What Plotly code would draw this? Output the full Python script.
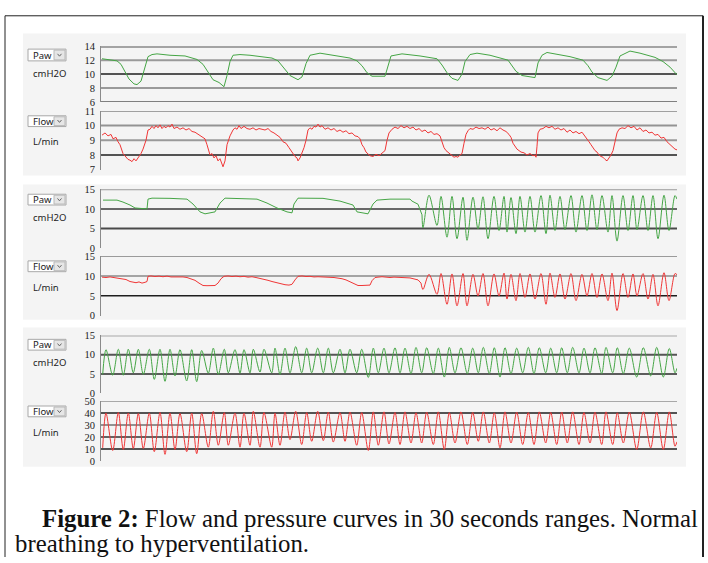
import plotly.graph_objects as go

# ---------------- DATA (time axis in samples: 576 samples = 30 s) ----------------
# Panel 1 (normal breathing) - airway pressure, cmH2O: (sample, value)
g1_paw = [(1, 12.2), (9, 12.0), (16, 11.9), (20, 11.4), (24, 10.3), (28, 9.3), (33, 8.6), (36, 8.5), (40, 9.0), (43, 10.5),
          (47, 12.5), (51, 12.8), (56, 12.9), (69, 12.7), (84, 12.6), (96, 12.1), (102, 11.4), (107, 10.3), (112, 9.2), (118, 8.8),
          (123, 8.2), (126, 9.8), (129, 11.8), (132, 12.7), (139, 12.8), (149, 12.7), (161, 12.5), (171, 12.3), (177, 11.9), (183, 10.8),
          (189, 9.8), (197, 9.2), (201, 9.6), (205, 11.5), (209, 12.7), (219, 13.0), (234, 12.6), (249, 12.3), (256, 11.9), (261, 11.2),
          (266, 10.2), (271, 9.7), (284, 9.7), (287, 11.0), (290, 12.6), (301, 12.9), (319, 12.6), (336, 12.2), (341, 11.3), (346, 10.2),
          (351, 9.4), (357, 9.1), (361, 10.0), (364, 11.8), (369, 12.8), (376, 13.0), (389, 12.7), (407, 12.0), (411, 11.2), (415, 10.4),
          (421, 9.8), (434, 9.5), (437, 11.6), (441, 12.7), (446, 13.1), (454, 12.9), (469, 12.5), (482, 12.0), (487, 11.2), (491, 10.3),
          (497, 9.5), (506, 9.1), (511, 9.7), (515, 11.0), (519, 12.6), (529, 13.3), (539, 13.0), (554, 12.4), (562, 11.8), (569, 11.0),
          (576, 9.9)]

# Panel 1 - flow, L/min
g1_flow = [(1, 9.35), (4, 9.5), (7, 9.3), (10, 9.4), (12, 9.1), (15, 9.2), (17, 8.9), (19, 8.7), (22, 8.1), (25, 7.9),
           (27, 7.7), (29, 7.65), (31, 7.55), (33, 7.75), (35, 7.6), (37, 7.8), (40, 8.1), (42, 8.4), (45, 9.0), (47, 9.7),
           (49, 9.75), (51, 9.95), (53, 9.8), (55, 10.0), (57, 9.85), (59, 10.05), (61, 9.8), (63, 9.95), (65, 9.85), (67, 10.0),
           (69, 9.9), (71, 10.1), (73, 9.8), (76, 9.9), (79, 9.75), (82, 9.85), (85, 9.7), (88, 9.8), (91, 9.6), (94, 9.55),
           (97, 9.4), (99, 9.35), (102, 9.2), (104, 9.1), (106, 8.7), (109, 8.0), (111, 8.1), (113, 7.8), (115, 7.95), (117, 7.6),
           (119, 7.75), (121, 7.4), (122, 7.2), (124, 7.6), (126, 8.7), (129, 9.3), (132, 9.7), (134, 9.85), (136, 9.75), (138, 10.0),
           (140, 9.8), (143, 9.95), (146, 9.8), (149, 9.75), (152, 9.85), (155, 9.7), (158, 9.8), (161, 9.75), (164, 9.7), (167, 9.8),
           (170, 9.6), (173, 9.5), (176, 9.35), (179, 9.2), (182, 8.9), (185, 8.8), (188, 8.5), (191, 8.2), (194, 7.9), (196, 7.8),
           (197, 7.6), (199, 7.8), (201, 8.1), (203, 8.5), (205, 9.0), (207, 9.7), (209, 9.85), (211, 9.75), (213, 9.95), (215, 9.9),
           (217, 10.1), (219, 9.9), (221, 10.0), (224, 9.75), (227, 9.85), (230, 9.7), (233, 9.8), (236, 9.6), (239, 9.7), (242, 9.55),
           (245, 9.65), (248, 9.45), (251, 9.5), (254, 9.3), (257, 9.25), (259, 9.1), (261, 8.7), (263, 8.5), (265, 8.2), (267, 8.05),
           (269, 7.95), (272, 7.9), (275, 8.05), (278, 7.95), (281, 8.1), (284, 8.3), (286, 9.0), (288, 9.5), (291, 9.75), (294, 9.9),
           (297, 9.8), (300, 10.0), (303, 9.85), (306, 9.95), (309, 9.8), (312, 9.9), (315, 9.7), (318, 9.8), (321, 9.6), (324, 9.7),
           (327, 9.5), (330, 9.6), (333, 9.4), (336, 9.45), (339, 9.3), (341, 8.9), (343, 8.5), (345, 8.3), (347, 8.2), (349, 8.05),
           (351, 7.95), (353, 7.85), (355, 7.9), (357, 7.85), (359, 8.0), (361, 8.1), (363, 8.8), (365, 9.4), (367, 9.65), (369, 9.8),
           (372, 9.75), (375, 9.9), (378, 9.8), (381, 9.85), (384, 9.75), (387, 9.9), (390, 9.7), (393, 9.8), (396, 9.65), (399, 9.85),
           (402, 9.7), (405, 9.6), (408, 9.4), (410, 9.2), (412, 8.8), (414, 8.6), (416, 8.4), (418, 8.3), (420, 8.2), (423, 8.15),
           (426, 8.0), (429, 8.1), (432, 7.95), (434, 8.0), (435, 7.85), (436, 8.6), (437, 9.5), (439, 9.75), (442, 9.8), (445, 9.95),
           (448, 9.85), (451, 9.95), (454, 9.75), (457, 9.85), (460, 9.7), (463, 9.8), (466, 9.55), (469, 9.7), (472, 9.5), (475, 9.6),
           (478, 9.45), (481, 9.55), (484, 9.3), (486, 9.1), (488, 8.9), (490, 8.7), (492, 8.5), (494, 8.3), (496, 8.2), (498, 8.0),
           (500, 7.9), (502, 7.85), (504, 7.7), (506, 7.6), (508, 7.8), (510, 8.0), (512, 8.3), (514, 8.9), (516, 9.5), (518, 9.75),
           (521, 9.85), (524, 9.8), (527, 10.0), (530, 9.85), (533, 9.95), (536, 9.7), (539, 9.85), (542, 9.6), (545, 9.7), (548, 9.5),
           (551, 9.55), (554, 9.35), (557, 9.4), (560, 9.15), (563, 9.2), (566, 8.9), (569, 8.7), (572, 8.5), (574, 8.4), (576, 8.35)]

# Panel 2 (onset of hyperventilation) - calm part before the rapid breathing
g2_paw_calm = [(2, 12.25), (16, 12.25), (22, 11.75), (29, 11.0), (34, 10.25), (39, 10.1), (46, 10.0), (47, 12.5), (51, 12.75), (69, 12.7),
               (86, 12.5), (92, 11.25), (99, 9.25), (104, 8.75), (114, 9.25), (119, 11.5), (124, 12.75), (156, 12.5), (166, 11.5), (176, 10.25),
               (186, 9.25), (191, 9.0), (193, 11.25), (197, 12.75), (222, 12.7), (239, 12.0), (252, 11.0), (256, 9.25), (267, 8.75), (272, 11.25),
               (276, 12.25), (289, 12.5), (309, 12.5), (311, 12.0), (317, 11.2), (321, 8.5)]
g2_flow_calm = [(1, 9.7), (5, 9.6), (9, 9.75), (13, 9.55), (17, 9.5), (21, 9.3), (25, 9.1), (29, 8.6), (32, 8.4), (35, 8.3),
                (38, 8.5), (41, 8.2), (44, 8.4), (46, 8.6), (47, 9.9), (50, 10.0), (54, 9.85), (58, 9.95), (62, 9.8), (66, 9.95),
                (70, 9.75), (74, 9.8), (78, 9.7), (82, 9.75), (86, 9.6), (90, 9.3), (94, 8.9), (98, 8.2), (102, 7.6), (106, 7.55),
                (110, 7.65), (114, 7.6), (117, 8.2), (120, 9.3), (123, 9.9), (127, 10.0), (131, 9.85), (135, 9.95), (139, 9.8), (143, 9.9),
                (147, 9.7), (151, 9.8), (155, 9.6), (159, 9.4), (163, 9.2), (167, 8.9), (171, 8.6), (175, 8.3), (179, 8.0), (184, 7.8),
                (188, 7.7), (191, 7.9), (194, 9.0), (197, 9.9), (201, 10.0), (205, 9.85), (209, 9.9), (213, 9.75), (217, 9.8), (221, 9.7),
                (225, 9.75), (229, 9.65), (233, 9.6), (237, 9.5), (241, 9.3), (245, 9.0), (249, 8.5), (253, 7.9), (257, 7.6), (261, 7.6),
                (265, 7.65), (269, 7.7), (271, 8.8), (274, 9.6), (277, 9.7), (281, 9.8), (285, 9.7), (289, 9.6), (293, 9.7), (297, 9.6),
                (301, 9.65), (305, 9.55), (309, 9.5), (313, 9.3), (317, 9.0), (320, 8.2)]
# Panel 2 - rapid breathing: (sample, paw, flow) at troughs and peaks
g2_troughs = [(322, 5.2, 6.6), (336, 5.8, 5.4), (346, 2.8, 2.9), (356, 2.4, 2.5), (366, 2.0, 2.5), (377, 4.9, 5.0), (387, 2.4, 2.5),
              (398, 4.5, 5.0), (406, 4.1, 4.2), (415, 3.7, 3.8), (424, 4.1, 4.6), (434, 4.1, 4.2), (445, 3.7, 2.9), (454, 4.5, 4.6),
              (464, 4.7, 4.2), (475, 4.1, 3.8), (486, 4.5, 5.0), (496, 4.7, 4.6), (507, 4.1, 3.8), (516, 1.8, 1.3), (527, 4.5, 4.6),
              (536, 4.7, 5.0), (547, 4.5, 4.2), (557, 2.4, 2.5), (568, 4.5, 3.8)]
g2_peaks = [(328, 13.5, 10.4), (340, 13.2, 10.6), (351, 13.2, 10.5), (362, 13.0, 10.6), (372, 13.0, 10.4), (382, 13.1, 10.6),
            (393, 13.2, 10.5), (403, 13.2, 10.7), (410, 12.9, 10.4), (419, 13.2, 10.6), (429, 13.2, 10.5), (440, 13.4, 10.6),
            (449, 13.5, 10.7), (459, 13.2, 10.5), (470, 13.4, 10.6), (481, 13.4, 10.4), (491, 13.6, 10.6), (501, 13.4, 10.5),
            (511, 13.4, 10.7), (522, 13.4, 10.6), (532, 13.4, 10.5), (542, 13.4, 10.6), (552, 13.4, 10.4), (563, 13.5, 10.8),
            (574, 13.4, 10.6)]
g2_end = (576, 12.5, 10.3)

# Panel 3 (hyperventilation) - (sample, paw, flow)
g3_troughs = [(1.7, 4.9, 10.9), (11.7, 4.7, 8.7), (22.3, 4.7, 9.5), (32.3, 5.3, 10.4), (42.3, 4.9, 10.4), (53.3, 3.6, 7.7),
              (64, 3.1, 5.5), (74, 4.5, 9.5), (85.7, 3.2, 7.7), (95.7, 3.0, 6.0), (107.3, 5.2, 11.5), (117.3, 4.9, 13.1),
              (127.3, 5.3, 13.1), (139, 5.2, 11.5), (149, 5.3, 13.1), (159, 5.5, 11.5), (170.7, 5.3, 11.5), (179, 4.9, 13.1),
              (189, 5.3, 17.8), (200.7, 5.3, 13.7), (210.7, 5.3, 16.4), (222.3, 5.3, 16.9), (232.3, 5.3, 15.8), (244, 5.3, 16.4),
              (255.7, 5.3, 13.1), (267.3, 4.1, 8.7), (277.3, 5.3, 13.1), (288, 5.3, 14.2), (299, 5.3, 13.7), (310, 5.1, 15.0),
              (320.7, 5.3, 15.0), (332.3, 5.1, 13.7), (343.3, 4.2, 9.6), (354, 5.3, 15.0), (366.3, 5.1, 13.7), (377.3, 5.3, 16.4),
              (388.3, 5.1, 15.0), (399, 4.2, 10.9), (410, 5.1, 15.0), (421.7, 5.3, 13.7), (433, 5.1, 13.7), (444.7, 5.3, 15.0),
              (455.7, 5.3, 13.7), (466.3, 5.3, 15.0), (478, 5.3, 13.7), (489, 5.3, 15.0), (500.7, 5.1, 13.7), (511.7, 5.3, 13.7),
              (522.3, 5.1, 15.0), (535.7, 4.2, 9.6), (549.7, 4.5, 10.9), (562.3, 4.2, 9.6), (574, 5.3, 12.3)]
g3_peaks = [(5, 11.3, 40.0), (17.3, 11.4, 40.4), (27.3, 11.4, 40.0), (37.3, 11.4, 39.6), (48.3, 11.4, 40.0), (59, 11.4, 40.4),
            (69, 11.4, 40.0), (79, 11.3, 39.6), (90.7, 11.3, 40.0), (100.7, 11.1, 39.6), (112.3, 11.7, 41.5), (123.3, 11.4, 40.4),
            (134, 11.3, 40.0), (143, 11.3, 40.0), (152.3, 11.4, 41.5), (163, 11.4, 40.4), (174, 11.7, 40.0), (184, 11.7, 40.8),
            (194.7, 12.1, 41.5), (205.7, 11.7, 40.4), (216.7, 11.7, 41.5), (227.3, 11.7, 40.8), (239, 11.4, 40.4), (249, 11.4, 40.8),
            (260.7, 11.4, 40.4), (272.3, 11.7, 41.0), (283, 11.7, 41.0), (294, 11.8, 40.6), (304, 11.7, 41.0), (315, 11.9, 40.2),
            (325.7, 11.8, 40.8), (337.3, 11.7, 41.0), (348.3, 11.9, 40.4), (360, 11.8, 41.0), (371.7, 11.7, 40.6), (382.3, 11.9, 41.0),
            (393.3, 11.8, 40.2), (404, 11.8, 41.0), (415.7, 11.7, 40.8), (427.3, 11.9, 40.4), (438.3, 11.8, 41.0), (449.7, 11.7, 40.6),
            (460.7, 11.8, 40.8), (471.7, 11.9, 41.0), (483, 11.7, 40.4), (494, 11.8, 40.8), (505, 11.9, 41.0), (516.3, 11.8, 40.2),
            (528.3, 11.7, 40.8), (542.3, 11.8, 41.0), (555.7, 11.9, 40.6), (568.3, 11.6, 41.0)]
g3_end = (576, 6.5, 16.0)

paw_ticks_g1 = [6, 8, 10, 12, 14]
flow_ticks_g1 = [7, 8, 9, 10, 11]
ticks_015 = [0, 5, 10, 15]
flow_ticks_g3 = [0, 10, 20, 30, 40, 50]

caption_bold = "Figure 2:"
caption_line1 = " Flow and pressure curves in 30 seconds ranges. Normal"
caption_line2 = "breathing to hyperventilation."

# ---------------- helpers ----------------
W, H = 708, 563
def px(x): return x / W
def py(y): return 1 - y / H

def merge(*lists):
    return sorted([p for l in lists for p in l], key=lambda p: p[0])

GREEN = "#45a545"
RED = "#ef3636"

fig = go.Figure()
shapes = []
annotations = []

# group backgrounds
for (y0, y1) in [(29, 174), (183, 321), (329, 471)]:
    shapes.append(dict(type="rect", xref="paper", yref="paper", x0=px(23), x1=px(686), y0=py(y1), y1=py(y0),
                       fillcolor="#f4f4f4", line=dict(width=0), layer="below"))

# panels: (top px, bottom px, range, ticks, gridlines[(val, color, width)])
panels = [
    (42, 99, [6, 14], paw_ticks_g1, [(14, "#888888", 3), (12, "#9a9a9a", 2), (10, "#1e1e1e", 1.5), (8, "#9a9a9a", 2), (6, "#808080", 2)]),
    (108, 168, [7, 11], flow_ticks_g1, [(11, "#a0a0a0", 2), (10, "#939393", 2), (9, "#9a9a9a", 2), (8, "#1e1e1e", 1.5)]),
    (188, 248, [0, 15], ticks_015, [(15, "#9a9a9a", 2), (10, "#3a3a3a", 1.5), (5, "#4a4a4a", 2)]),
    (256, 317, [0, 15], ticks_015, [(15, "#9a9a9a", 2), (10, "#8a8a8a", 1.5), (5, "#1e1e1e", 1.5)]),
    (337, 396, [0, 15], ticks_015, [(15, "#a8a8a8", 2), (10, "#555555", 2), (5, "#2a2a2a", 1.5)]),
    (404, 465, [0, 50], flow_ticks_g3, [(50, "#a8a8a8", 2), (40, "#1e1e1e", 1.5), (30, "#707070", 1.5), (20, "#333333", 1.5), (10, "#1e1e1e", 1.5)]),
]

layout_axes = {}
for i, (top, bot, rng, ticks, grids) in enumerate(panels):
    n = "" if i == 0 else str(i + 1)
    layout_axes["xaxis" + n] = dict(domain=[px(101), px(677)], range=[0, 576], visible=False, anchor="y" + n, fixedrange=True)
    layout_axes["yaxis" + n] = dict(domain=[py(bot), py(top)], range=rng, tickvals=ticks, ticktext=[str(t) for t in ticks],
                                    anchor="x" + n, showgrid=False, zeroline=False, showline=True, linecolor="#8a8a8a",
                                    linewidth=1, ticks="", ticklabelstandoff=3,
                                    tickfont=dict(family="Liberation Serif", size=10.5, color="#222"), fixedrange=True)
    for (v, c, w) in grids:
        shapes.append(dict(type="line", xref=("x" + n + " domain"), yref="y" + n, x0=0, x1=1, y0=v, y1=v,
                           line=dict(color=c, width=w), layer="below"))

def add_line(pts, axis_n, color, shape="linear"):
    fig.add_trace(go.Scatter(x=[p[0] for p in pts], y=[p[1] for p in pts], mode="lines",
                             line=dict(color=color, width=1, shape=shape, smoothing=0.9),
                             xaxis="x" + axis_n, yaxis="y" + axis_n, showlegend=False, hoverinfo="skip"))

add_line(g1_paw, "", GREEN)
add_line(g1_flow, "2", RED)

add_line(g2_paw_calm, "3", GREEN)
g2_osc = merge(g2_troughs, g2_peaks, [g2_end])
add_line([(g2_paw_calm[-1][0], g2_paw_calm[-1][1])] + [(p[0], p[1]) for p in g2_osc], "3", GREEN, "spline")
add_line(g2_flow_calm, "4", RED)
add_line([(g2_flow_calm[-1][0], g2_flow_calm[-1][1])] + [(p[0], p[2]) for p in g2_osc], "4", RED, "spline")

g3 = merge(g3_troughs, g3_peaks, [g3_end])
add_line([(p[0], p[1]) for p in g3], "5", GREEN, "spline")
add_line([(p[0], p[2]) for p in g3], "6", RED, "spline")

# left control labels
LFONT = dict(family="Noto Sans, DejaVu Sans", size=9.5, color="#222")
controls = [("Paw", 45, 57, "cmH2O", 70), ("Flow", 113, 124, "L/min", 139),
            ("Paw", 193, 204, "cmH2O", 217), ("Flow", 261, 272, "L/min", 288),
            ("Paw", 341, 352, "cmH2O", 365), ("Flow", 409, 420, "L/min", 436)]
for (name, t, b, unit, uy) in controls:
    shapes.append(dict(type="rect", xref="paper", yref="paper", x0=px(28), x1=px(66), y0=py(b), y1=py(t),
                       fillcolor="white", line=dict(color="#a8a8a8", width=1)))
    shapes.append(dict(type="rect", xref="paper", yref="paper", x0=px(54), x1=px(65), y0=py(b - 1), y1=py(t + 1),
                       fillcolor="#e6e6e6", line=dict(color="#b8b8b8", width=1)))
    cy = (t + b) / 2
    shapes.append(dict(type="path", xref="paper", yref="paper",
                       path=f"M {px(57.5)} {py(cy - 1.2)} L {px(59.5)} {py(cy + 1.2)} L {px(61.5)} {py(cy - 1.2)}",
                       line=dict(color="#666", width=1)))
    annotations.append(dict(x=px(31), y=py(cy), xref="paper", yref="paper", text=name, showarrow=False,
                            xanchor="left", yanchor="middle", font=LFONT))
    annotations.append(dict(x=px(31), y=py(uy), xref="paper", yref="paper", text=unit, showarrow=False,
                            xanchor="left", yanchor="middle", font=LFONT))

# outer frame
shapes.append(dict(type="line", xref="paper", yref="paper", x0=px(5), x1=px(703), y0=py(11), y1=py(11), line=dict(color="#222", width=1)))
shapes.append(dict(type="line", xref="paper", yref="paper", x0=px(5), x1=px(5), y0=py(11), y1=0, line=dict(color="#222", width=1)))
shapes.append(dict(type="line", xref="paper", yref="paper", x0=px(703), x1=px(703), y0=py(11), y1=0, line=dict(color="#222", width=2)))

# caption
CFONT = dict(family="Liberation Serif, Times New Roman, serif", size=24.8, color="#111")
annotations.append(dict(x=px(40), y=py(524), xref="paper", yref="paper", text="<b>" + caption_bold + "</b>" + caption_line1,
                        showarrow=False, xanchor="left", yanchor="middle", font=CFONT))
annotations.append(dict(x=px(13), y=py(549), xref="paper", yref="paper", text=caption_line2,
                        showarrow=False, xanchor="left", yanchor="middle", font=CFONT))

fig.update_layout(width=W, height=H, autosize=False, margin=dict(l=0, r=0, t=0, b=0),
                  paper_bgcolor="white", plot_bgcolor="#e3e3e3", shapes=shapes, annotations=annotations,
                  showlegend=False, **layout_axes)

fig.write_html("out.html", config={"displayModeBar": False, "staticPlot": True},
               post_script="document.body.style.margin='0';document.body.style.overflow='hidden';")
